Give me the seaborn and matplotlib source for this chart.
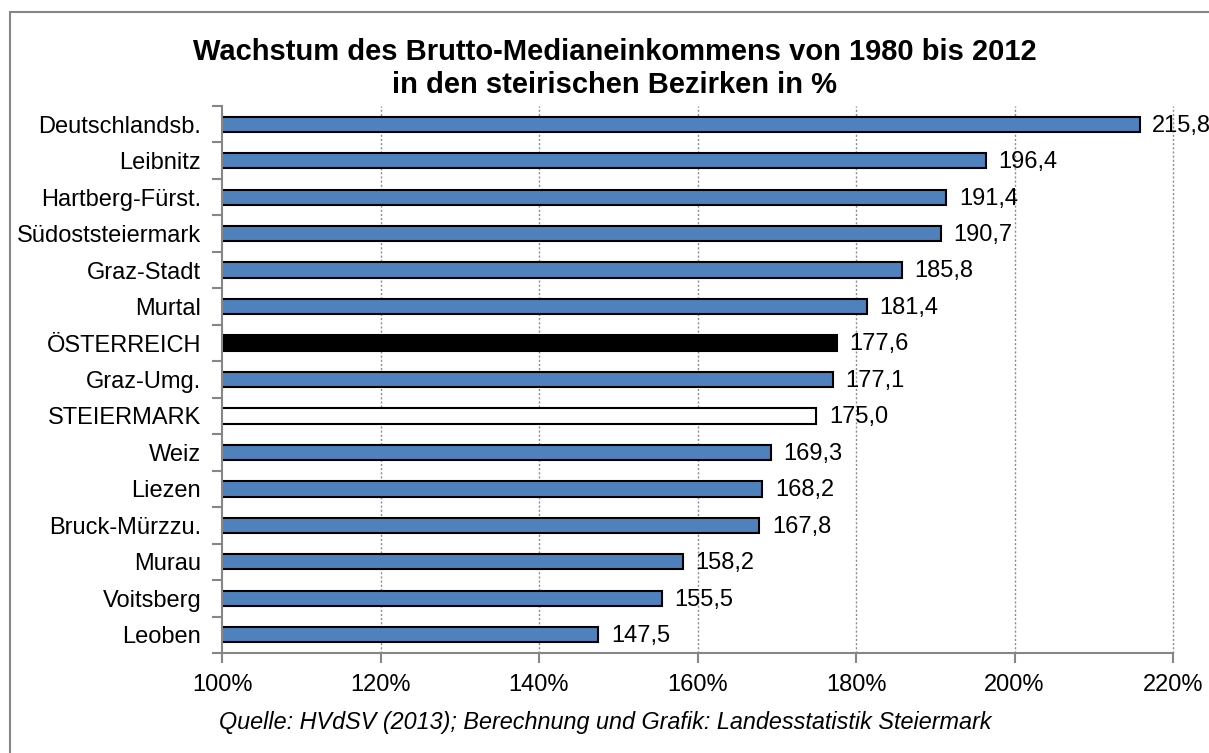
import matplotlib
matplotlib.use("Agg")
import matplotlib.pyplot as plt
import seaborn as sns
import pandas as pd
from matplotlib.patches import Rectangle
from matplotlib.ticker import FuncFormatter

# Data
bezirke = ['Deutschlandsb.', 'Leibnitz', 'Hartberg-Fürst.', 'Südoststeiermark', 'Graz-Stadt',
           'Murtal', 'ÖSTERREICH', 'Graz-Umg.', 'STEIERMARK', 'Weiz', 'Liezen',
           'Bruck-Mürzzu.', 'Murau', 'Voitsberg', 'Leoben']
wachstum = [215.8, 196.4, 191.4, 190.7, 185.8, 181.4, 177.6, 177.1, 175.0, 169.3,
            168.2, 167.8, 158.2, 155.5, 147.5]
blue = '#4F81BD'
farben = ['black' if b == 'ÖSTERREICH' else 'white' if b == 'STEIERMARK' else blue for b in bezirke]

df = pd.DataFrame({'bezirk': bezirke, 'wert': wachstum})

sns.set_style('white')
plt.rcParams['font.family'] = ['Liberation Sans', 'DejaVu Sans']
plt.rcParams['text.color'] = 'black'
plt.rcParams['xtick.color'] = 'black'
plt.rcParams['ytick.color'] = 'black'

fig = plt.figure(figsize=(12.09, 7.53), dpi=100)
ax = fig.add_axes([222 / 1209, 1 - 653 / 753, (1173 - 222) / 1209, (653 - 106) / 753])

sns.barplot(data=df, x='wert', y='bezirk', hue='bezirk', palette=farben, legend=False,
            orient='h', width=0.42, saturation=1, edgecolor='black', linewidth=1.5, ax=ax)

ax.set_xlim(100, 220)
ax.set_ylim(14.5, -0.5)
ax.set_xticks(range(100, 221, 20))
ax.xaxis.set_major_formatter(FuncFormatter(lambda v, p: f'{v:.0f}%'))
ax.set_xlabel('')
ax.set_ylabel('')

# dotted grid lines
for x in range(120, 221, 20):
    ax.axvline(x, color='#8C8C8C', linestyle=(0, (1.5, 1.5)), linewidth=1, zorder=0, clip_on=False)

for s in ['top', 'right']:
    ax.spines[s].set_visible(False)
for s in ['left', 'bottom']:
    ax.spines[s].set_color('#868686')
    ax.spines[s].set_linewidth(1.5)

ax.set_yticks([i - 0.5 for i in range(len(bezirke) + 1)], minor=True)
ax.tick_params(axis='y', which='major', left=False, length=0, pad=15, labelsize=17, labelcolor='black')
ax.tick_params(axis='y', which='minor', left=True, length=7, width=1.5, color='#868686', direction='out')
ax.tick_params(axis='x', which='major', bottom=True, length=7, width=1.5, color='#868686',
               direction='out', pad=8, labelsize=17, labelcolor='black')

for i, v in enumerate(wachstum):
    ax.annotate(f'{v:.1f}'.replace('.', ','), (v, i), xytext=(9, -1), textcoords='offset points',
                va='center', ha='left', fontsize=17, color='black', annotation_clip=False)

fig.text(615 / 1209, 1 - 52 / 753, 'Wachstum des Brutto-Medianeinkommens von 1980 bis 2012',
         ha='center', va='center', fontsize=21, fontweight='bold')
fig.text(615 / 1209, 1 - 85 / 753, 'in den steirischen Bezirken in %',
         ha='center', va='center', fontsize=21, fontweight='bold')
fig.text(605 / 1209, 1 - 722 / 753, 'Quelle: HVdSV (2013); Berechnung und Grafik: Landesstatistik Steiermark',
         ha='center', va='center', fontsize=16.8, style='italic')

# outer chart border
fig.patches.append(Rectangle((10 / 1209, -0.05), 1.2, 1 - 12 / 753 + 0.05, transform=fig.transFigure,
                             fill=False, edgecolor='#868686', linewidth=1.5))

fig.savefig('out.png', dpi=100)
